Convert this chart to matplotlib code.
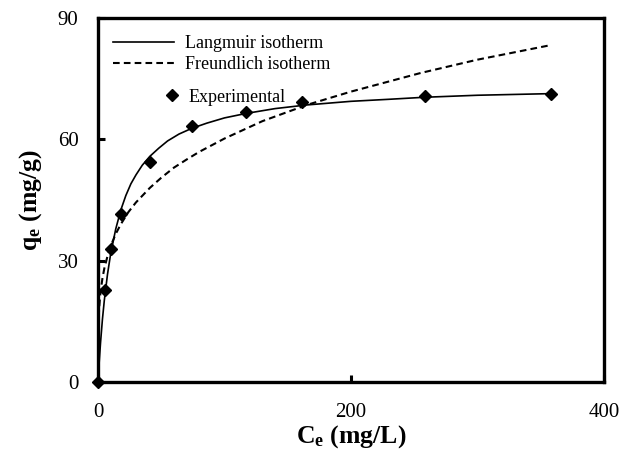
import numpy as np
import matplotlib
matplotlib.use("Agg")
import matplotlib.pyplot as plt
from matplotlib.lines import Line2D

plt.rcParams["font.family"] = ["Liberation Serif", "DejaVu Serif"]
plt.rcParams["mathtext.fontset"] = "custom"
plt.rcParams["mathtext.rm"] = "Liberation Serif"
plt.rcParams["mathtext.bf"] = "Liberation Serif:bold"

# experimental points
ce_exp = [0, 5.5, 10, 18, 41, 74, 117, 161.5, 258.5, 358]
qe_exp = [0, 22.7, 33.0, 41.5, 54.5, 63.4, 66.7, 69.3, 70.6, 71.1]

# fitted curves
ce_lang = [0, 1, 2, 3.5, 5, 7.5, 10, 14, 18, 22, 26, 30, 35, 41, 48, 55, 64, 74, 86,
           100, 117, 140, 165, 200, 230, 258, 300, 358]
qe_lang = [0, 5.2, 9.7, 15.5, 20.2, 26.6, 31.7, 37.8, 42.5, 46.1, 49.0, 51.2, 53.6, 55.8,
           57.8, 59.6, 61.3, 62.7, 64.0, 65.3, 66.4, 67.6, 68.5, 69.4, 69.9, 70.4, 70.9, 71.3]

ce_freu = [0, 0.5, 1, 2, 3.5, 5, 7.5, 10, 14, 18, 24, 30, 41, 50, 60, 70, 80, 100, 130,
           165, 200, 255, 300, 358]
qe_freu = [0, 15.6, 18.7, 22.3, 25.6, 28.1, 31.1, 33.6, 36.6, 39.0, 42.0, 44.4, 48.0,
           50.5, 53.0, 55.0, 56.9, 60.2, 64.5, 68.5, 71.8, 76.4, 79.7, 83.3]

fig = plt.figure(figsize=(6.3, 4.54), dpi=100)
ax = fig.add_axes([98 / 630, 1 - 382 / 454, 506 / 630, 364 / 454])

l1, = ax.plot(ce_lang, qe_lang, "-", color="black", lw=1.2, label="Langmuir isotherm")
l2, = ax.plot(ce_freu, qe_freu, "--", color="black", lw=1.5, dashes=(3.2, 2),
              label="Freundlich isotherm")
p1, = ax.plot(ce_exp, qe_exp, "D", color="black", markersize=6.2, ls="none",
              label="Experimental", zorder=5, clip_on=False)

ax.set_xlim(0, 400)
ax.set_ylim(0, 90)
ax.set_xticks([0, 200, 400])
ax.set_yticks([0, 30, 60, 90])
ax.tick_params(direction="in", length=5, width=2.2, labelsize=15, pad=14)
ax.tick_params(axis="x", pad=15)
for s in ax.spines.values():
    s.set_linewidth(2.4)

ax.set_xlabel(r"$\mathbf{C_e}$ (mg/L)", fontsize=18.5, fontweight="bold", labelpad=1)
ax.set_ylabel(r"$\mathbf{q_e}$ (mg/g)", fontsize=18.5, fontweight="bold", labelpad=10)

leg1 = ax.legend(handles=[l1, l2], loc="upper left", bbox_to_anchor=(0.0296, 0.952),
                 frameon=False, fontsize=13, handlelength=3.4, handletextpad=0.6,
                 borderpad=0, borderaxespad=0, labelspacing=0.2)
ax.add_artist(leg1)
ax.legend(handles=[p1], loc="upper left", bbox_to_anchor=(0.128, 0.806),
          frameon=False, fontsize=13, handlelength=1.0, handletextpad=0.4,
          borderpad=0, borderaxespad=0, numpoints=1)

fig.savefig("out.png", dpi=100)
